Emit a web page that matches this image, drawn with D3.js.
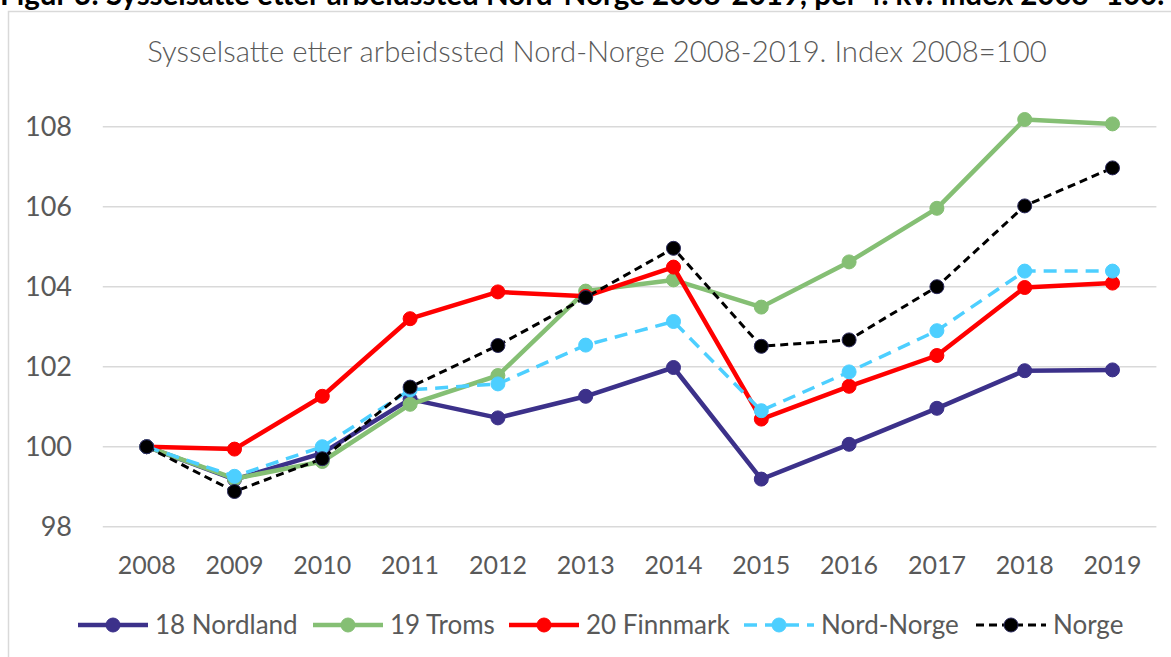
<!DOCTYPE html>
<html>
<head>
<meta charset="utf-8">
<script src="https://cdn.jsdelivr.net/npm/d3@7"></script>
<style>
  html, body { margin: 0; padding: 0; background: #fff; }
  svg { display: block; }
</style>
</head>
<body>
<svg id="chart" width="1171" height="657"></svg>
<script>
const headerText = "Figur 3: Sysselsatte etter arbeidssted Nord-Norge 2008-2019, per 4. kv. Index 2008=100.";
const titleText = "Sysselsatte etter arbeidssted Nord-Norge 2008-2019. Index 2008=100";
const years = ["2008","2009","2010","2011","2012","2013","2014","2015","2016","2017","2018","2019"];
const yTicks = [98, 100, 102, 104, 106, 108];
const seriesNames = ["18 Nordland", "19 Troms", "20 Finnmark", "Nord-Norge", "Norge"];
const nordland  = [100, 99.18, 99.84, 101.19, 100.72, 101.26, 101.98, 99.19, 100.06, 100.96, 101.90, 101.92];
const troms     = [100, 99.20, 99.63, 101.06, 101.78, 103.89, 104.17, 103.49, 104.62, 105.96, 108.18, 108.07];
const finnmark  = [100, 99.94, 101.26, 103.20, 103.87, 103.76, 104.49, 100.69, 101.51, 102.28, 103.98, 104.09];
const nordNorge = [100, 99.26, 100.00, 101.42, 101.57, 102.54, 103.13, 100.90, 101.87, 102.90, 104.39, 104.39];
const norge     = [100, 98.88, 99.70, 101.49, 102.53, 103.73, 104.96, 102.51, 102.67, 104.00, 106.02, 106.97];

const seriesValues = [nordland, troms, finnmark, nordNorge, norge];
const styles = [
  {color: "#3C318A", width: 4.5, dash: null, mfill: "#3C318A", mstroke: "#3C318A"},
  {color: "#85BF74", width: 4.5, dash: null, mfill: "#85BF74", mstroke: "#85BF74"},
  {color: "#FF0000", width: 4.5, dash: null, mfill: "#FF0000", mstroke: "#FF0000"},
  {color: "#4DCFFF", width: 3.5, dash: "13,8", mfill: "#4DCFFF", mstroke: "#4DCFFF"},
  {color: "#000000", width: 3, dash: "8,5", mfill: "#000000", mstroke: "#2B2A5C"}
];

const svg = d3.select("#chart");
const FONT = "Lato, 'Open Sans', 'DejaVu Sans', sans-serif";
const GREY = "#595959";

// chart border (extends past the right/bottom edge)
svg.append("rect").attr("x", 8.5).attr("y", 11.5).attr("width", 1200).attr("height", 700)
  .attr("fill", "#fff").attr("stroke", "#D9D9D9").attr("stroke-width", 1.5);

// header (cut off at top, as in the source image)
const hdr = svg.append("text").attr("x", 0).attr("y", 5)
  .attr("font-family", FONT).attr("font-weight", 700).attr("font-size", 24)
  .attr("fill", "#000").text(headerText);
{
  const w = hdr.node().getComputedTextLength();
  hdr.attr("font-size", 24 * 1165 / w);
}

// title
const ttl = svg.append("text").attr("x", 597).attr("y", 62).attr("text-anchor", "middle")
  .attr("font-family", FONT).attr("font-weight", 300).attr("font-size", 22)
  .attr("fill", GREY).text(titleText);
{
  const w = ttl.node().getComputedTextLength();
  ttl.attr("font-size", 22 * 900 / w);
}

const x = d3.scaleBand().domain(years).range([102.8, 1156.4]).paddingInner(0).paddingOuter(0);
const xc = d => x(d) + x.bandwidth() / 2;
const y = d3.scaleLinear().domain([98, 108]).range([526.7, 126.7]);

// gridlines
svg.append("g").selectAll("line").data(yTicks).join("line")
  .attr("x1", 102.8).attr("x2", 1156.4)
  .attr("y1", d => y(d)).attr("y2", d => y(d))
  .attr("stroke", "#D9D9D9").attr("stroke-width", 1.5);

// y axis
const yAxis = svg.append("g").attr("transform", "translate(103,0)")
  .call(d3.axisLeft(y).tickValues(yTicks).tickSize(0).tickPadding(31).tickFormat(d3.format("d")));
yAxis.select(".domain").remove();
yAxis.selectAll("text").attr("font-family", FONT).attr("font-size", 27).attr("fill", GREY);

// x axis
const xAxis = svg.append("g").attr("transform", "translate(0,526.7)")
  .call(d3.axisBottom(x).tickSize(0).tickPadding(30));
xAxis.select(".domain").remove();
xAxis.selectAll("text").attr("font-family", FONT).attr("font-size", 25).attr("fill", GREY);

// series
const line = d3.line().x((d, i) => xc(years[i])).y(d => y(d));
seriesValues.forEach((vals, si) => {
  const st = styles[si];
  const g = svg.append("g");
  g.append("path").datum(vals).attr("d", line)
    .attr("fill", "none").attr("stroke", st.color).attr("stroke-width", st.width)
    .attr("stroke-linejoin", "round")
    .attr("stroke-dasharray", st.dash);
  g.selectAll("circle").data(vals).join("circle")
    .attr("cx", (d, i) => xc(years[i])).attr("cy", d => y(d)).attr("r", 7)
    .attr("fill", st.mfill).attr("stroke", st.mstroke).attr("stroke-width", 1);
});

// legend
const legendMarkers = [113, 348, 544, 779, 1011];
const ly = 625;
seriesNames.forEach((name, si) => {
  const st = styles[si];
  const cx = legendMarkers[si];
  const g = svg.append("g");
  g.append("line").attr("x1", cx - 35).attr("x2", cx + 35).attr("y1", ly).attr("y2", ly)
    .attr("stroke", st.color).attr("stroke-width", st.width).attr("stroke-dasharray", st.dash);
  g.append("circle").attr("cx", cx).attr("cy", ly).attr("r", 7)
    .attr("fill", st.mfill).attr("stroke", st.mstroke).attr("stroke-width", 1);
  g.append("text").attr("x", cx + 42).attr("y", ly).attr("dy", "0.35em")
    .attr("font-family", FONT).attr("font-size", 26).attr("fill", GREY).text(name);
});
</script>
</body>
</html>
